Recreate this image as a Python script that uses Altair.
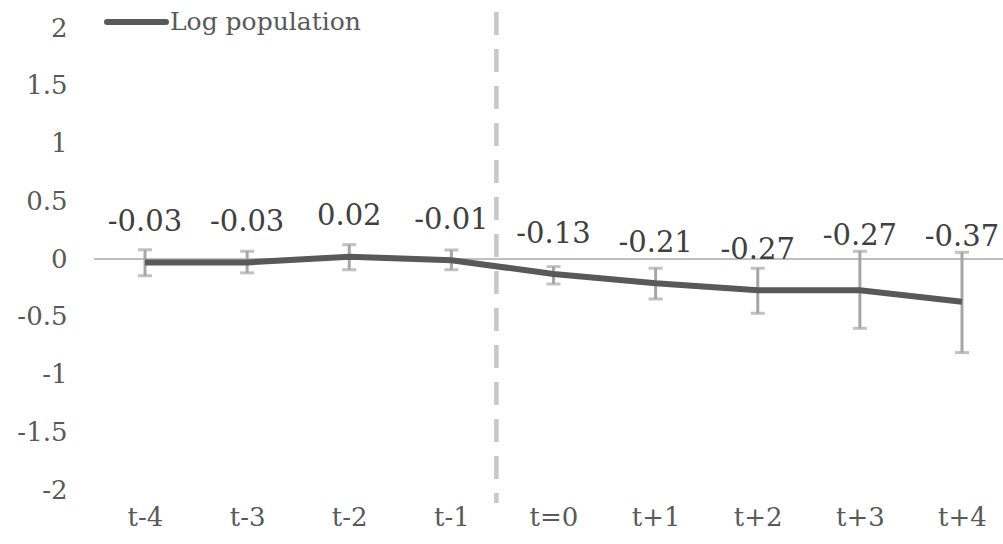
import altair as alt
import pandas as pd

periods = ["t-4", "t-3", "t-2", "t-1", "t=0", "t+1", "t+2", "t+3", "t+4"]
values = [-0.03, -0.03, 0.02, -0.01, -0.13, -0.21, -0.27, -0.27, -0.37]
lower = [-0.145, -0.12, -0.093, -0.093, -0.216, -0.346, -0.47, -0.60, -0.81]
upper = [0.08, 0.067, 0.124, 0.078, -0.066, -0.08, -0.08, 0.067, 0.058]
labels = ["-0.03", "-0.03", "0.02", "-0.01", "-0.13", "-0.21", "-0.27", "-0.27", "-0.37"]
y_ticks = [-2, -1.5, -1, -0.5, 0, 0.5, 1, 1.5, 2]
legend_label = "Log population"

FONT = "DejaVu Serif"
W, H = 909, 462

df = pd.DataFrame({"period": periods, "value": values, "lower": lower,
                   "upper": upper, "label": labels})

x_enc = alt.X("period:O", sort=periods,
              scale=alt.Scale(type="point", range=[51, 868], padding=0),
              axis=alt.Axis(title=None, labelAngle=0, domain=False, ticks=False,
                            grid=False, labelFont=FONT, labelFontSize=26,
                            labelColor="#595959", labelPadding=14))
y_scale = alt.Scale(domain=[-2, 2], nice=False, zero=False)
y_axis = alt.Axis(title=None, values=y_ticks, domain=False, ticks=False, grid=False,
                  labelFont=FONT, labelFontSize=26, labelColor="#595959",
                  labelPadding=27, labelExpr="'' + datum.value")

base = alt.Chart(df)

zero_rule = alt.Chart(pd.DataFrame({"z": [0]})).mark_rule(
    color="#bfbfbf", strokeWidth=2
).encode(y=alt.Y("z:Q", scale=y_scale, axis=y_axis))

divider = base.transform_filter(alt.datum.period == "t-1").mark_rule(
    color="#c8c8c8", strokeWidth=4.5, strokeDash=[23, 14], xOffset=45
).encode(x=x_enc, y=alt.value(-16), y2=alt.value(475))

err = base.mark_rule(color="#a6a6a6", strokeWidth=3).encode(
    x=x_enc, y=alt.Y("lower:Q", scale=y_scale, axis=y_axis), y2="upper:Q")
cap_lo = base.mark_tick(color="#a6a6a6", thickness=3, size=14).encode(
    x=x_enc, y=alt.Y("lower:Q", scale=y_scale, axis=y_axis))
cap_hi = base.mark_tick(color="#a6a6a6", thickness=3, size=14).encode(
    x=x_enc, y=alt.Y("upper:Q", scale=y_scale, axis=y_axis))

line = base.mark_line(color="#595959", strokeWidth=6).encode(
    x=x_enc, y=alt.Y("value:Q", scale=y_scale, axis=y_axis))

text = base.transform_calculate(
    ly="max(datum.value + 0.35, datum.upper + 0.13)"
).mark_text(font=FONT, fontSize=29, color="#404040", baseline="middle").encode(
    x=x_enc, y=alt.Y("ly:Q", scale=y_scale, axis=y_axis), text="label:N")

leg_df = pd.DataFrame({"name": [legend_label]})
leg_line = alt.Chart(leg_df).mark_rule(color="#595959", strokeWidth=6, strokeCap="round").encode(
    x=alt.value(13), x2=alt.value(72), y=alt.value(-6))
leg_text = alt.Chart(leg_df).mark_text(font=FONT, fontSize=25, color="#595959",
                                       align="left", baseline="middle").encode(
    x=alt.value(76), y=alt.value(-6), text="name:N")

chart = alt.layer(zero_rule, divider, err, cap_lo, cap_hi, line, text, leg_line, leg_text).properties(
    width=W, height=H,
    background="white",
    autosize=alt.AutoSizeParams(type="none"),
    padding={"left": 94, "top": 28, "right": 0, "bottom": 54},
).configure_view(strokeWidth=0, stroke=None)

chart.save("out.html", embed_options={"renderer": "svg", "actions": False})
